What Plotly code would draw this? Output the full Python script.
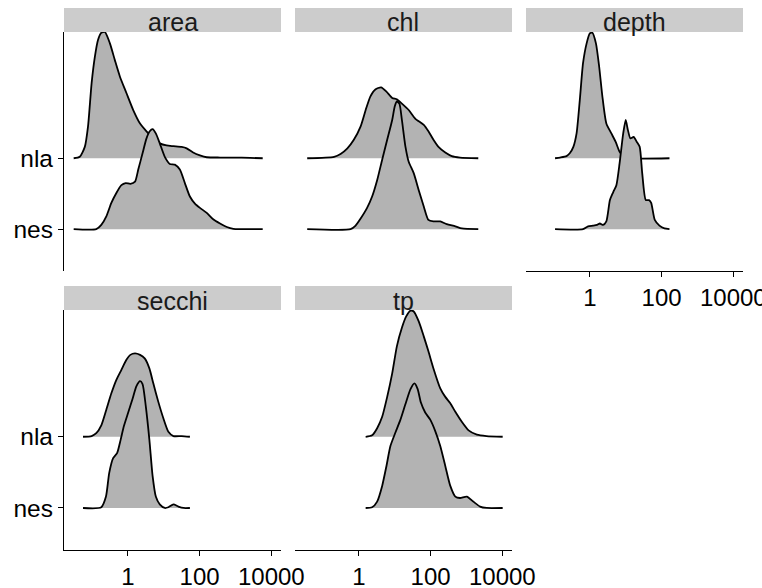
import plotly.graph_objects as go

# ---------------- data ----------------
facets = ["area", "chl", "depth", "secchi", "tp"]
categories = ["nes", "nla"]          # bottom -> top
x_tick_values = [1, 100, 10000]
x_tick_labels = ["1", "100", "10000"]

# log10(x) positions and ridge heights (in units of category spacing)
area_nla_logx = [-1.51, -1.34, -1.20, -1.11, -1.01, -0.92, -0.83, -0.74, -0.64, -0.50, -0.36, -0.22, -0.04,
                 0.15, 0.34, 0.52, 0.71, 0.89, 1.08, 1.27, 1.50, 1.64, 1.82, 2.01, 2.20, 2.57, 2.94, 3.41, 3.76]
area_nla_h = [0, 0.02, 0.16, 0.45, 1.06, 1.43, 1.67, 1.77, 1.78, 1.62, 1.38, 1.15, 0.92,
              0.68, 0.49, 0.38, 0.28, 0.21, 0.18, 0.17, 0.16, 0.14, 0.08, 0.04, 0.014, 0.01, 0.01, 0.005, 0]
area_nes_logx = [-1.51, -0.88, -0.74, -0.60, -0.46, -0.32, -0.18, -0.06, 0.07, 0.20, 0.29, 0.41, 0.52, 0.61,
                 0.69, 0.78, 0.89, 1.03, 1.17, 1.31, 1.45, 1.59, 1.73, 1.87, 2.01, 2.20, 2.38, 2.57, 2.76,
                 2.94, 3.76]
area_nes_h = [0, 0, 0.06, 0.18, 0.37, 0.51, 0.62, 0.65, 0.64, 0.67, 0.84, 1.07, 1.28, 1.38,
              1.41, 1.35, 1.21, 1.02, 0.92, 0.91, 0.84, 0.65, 0.46, 0.36, 0.30, 0.23, 0.14, 0.08, 0.03,
              0.005, 0]

chl_nla_logx = [-1.44, -0.69, -0.51, -0.32, -0.14, 0.05, 0.19, 0.32, 0.46, 0.62, 0.77, 0.93, 1.06, 1.20,
                1.39, 1.57, 1.81, 1.94, 2.08, 2.22, 2.41, 2.59, 2.82, 3.33]
chl_nla_h = [0, 0.02, 0.06, 0.14, 0.26, 0.45, 0.68, 0.87, 0.97, 1.00, 0.94, 0.85, 0.83, 0.77,
             0.68, 0.56, 0.47, 0.38, 0.26, 0.16, 0.08, 0.03, 0.01, 0]
chl_nes_logx = [-1.44, -0.23, -0.09, 0.05, 0.23, 0.37, 0.51, 0.65, 0.79, 0.93, 1.00, 1.06, 1.13, 1.20,
                1.30, 1.39, 1.53, 1.67, 1.81, 1.94, 2.08, 2.27, 2.45, 2.69, 2.87, 3.33]
chl_nes_h = [0, 0, 0.05, 0.15, 0.30, 0.46, 0.69, 0.98, 1.26, 1.54, 1.73, 1.80, 1.77, 1.54,
             1.16, 0.95, 0.79, 0.55, 0.32, 0.13, 0.11, 0.11, 0.07, 0.04, 0.01, 0]

depth_nla_logx = [-0.97, -0.83, -0.65, -0.56, -0.46, -0.37, -0.28, -0.19, -0.09, 0.00, 0.07, 0.17, 0.26,
                  0.35, 0.46, 0.60, 0.72, 0.83, 0.93, 1.11, 2.22]
depth_nla_h = [0, 0.01, 0.03, 0.07, 0.16, 0.35, 0.82, 1.34, 1.62, 1.76, 1.77, 1.62, 1.29,
               0.87, 0.49, 0.35, 0.23, 0.09, 0.03, 0, 0]
depth_nes_logx = [-0.97, -0.19, -0.05, 0.09, 0.20, 0.28, 0.37, 0.46, 0.56, 0.65, 0.74, 0.83, 0.93, 1.00,
                  1.06, 1.13, 1.22, 1.31, 1.39, 1.46, 1.56, 1.65, 1.71, 1.81, 1.94, 2.08, 2.22]
depth_nes_h = [0, 0, 0.04, 0.05, 0.06, 0.08, 0.06, 0.11, 0.41, 0.52, 0.62, 0.93, 1.35, 1.54,
               1.40, 1.28, 1.30, 1.23, 1.16, 0.79, 0.41, 0.41, 0.37, 0.13, 0.05, 0.01, 0]

secchi_nla_logx = [-1.25, -1.01, -0.88, -0.74, -0.60, -0.46, -0.32, -0.18, -0.04, 0.07, 0.20, 0.34, 0.47,
                   0.60, 0.71, 0.85, 0.99, 1.13, 1.27, 1.50, 1.73]
secchi_nla_h = [0, 0.01, 0.05, 0.16, 0.38, 0.61, 0.80, 0.94, 1.08, 1.15, 1.17, 1.15, 1.10,
                0.96, 0.75, 0.49, 0.26, 0.07, 0.01, 0.01, 0]
secchi_nes_logx = [-1.25, -0.74, -0.61, -0.52, -0.41, -0.30, -0.20, -0.11, 0.01, 0.13, 0.24, 0.34, 0.41,
                   0.50, 0.60, 0.69, 0.78, 0.89, 1.03, 1.13, 1.27, 1.41, 1.55, 1.73]
secchi_nes_h = [0, 0.01, 0.16, 0.49, 0.70, 0.77, 0.96, 1.15, 1.34, 1.53, 1.71, 1.78, 1.74,
                1.43, 0.96, 0.45, 0.16, 0.05, 0, 0.01, 0.05, 0.02, 0, 0]

tp_nla_logx = [0.19, 0.37, 0.51, 0.65, 0.79, 0.93, 1.06, 1.20, 1.32, 1.44, 1.53, 1.67, 1.81, 1.94,
               2.08, 2.27, 2.41, 2.55, 2.69, 2.87, 3.06, 3.29, 3.56, 4.01]
tp_nla_h = [0, 0.02, 0.12, 0.28, 0.56, 0.89, 1.27, 1.53, 1.69, 1.77, 1.76, 1.62, 1.41, 1.20,
            0.96, 0.68, 0.56, 0.47, 0.35, 0.21, 0.09, 0.03, 0.01, 0]
tp_nes_logx = [0.19, 0.37, 0.51, 0.65, 0.77, 0.88, 1.02, 1.16, 1.30, 1.44, 1.55, 1.64, 1.73, 1.85,
               1.99, 2.13, 2.27, 2.41, 2.55, 2.69, 2.82, 3.01, 3.19, 3.38, 3.56, 4.01]
tp_nes_h = [0, 0.01, 0.09, 0.31, 0.59, 0.87, 1.06, 1.24, 1.46, 1.67, 1.75, 1.67, 1.48, 1.34,
            1.24, 1.08, 0.87, 0.59, 0.31, 0.16, 0.14, 0.16, 0.09, 0.02, 0, 0]

ridges = {
    "area": {"nla": (area_nla_logx, area_nla_h), "nes": (area_nes_logx, area_nes_h)},
    "chl": {"nla": (chl_nla_logx, chl_nla_h), "nes": (chl_nes_logx, chl_nes_h)},
    "depth": {"nla": (depth_nla_logx, depth_nla_h), "nes": (depth_nes_logx, depth_nes_h)},
    "secchi": {"nla": (secchi_nla_logx, secchi_nla_h), "nes": (secchi_nes_logx, secchi_nes_h)},
    "tp": {"nla": (tp_nla_logx, tp_nla_h), "nes": (tp_nes_logx, tp_nes_h)},
}

# ---------------- layout geometry ----------------
W, H = 762, 588
col_px = [(64, 281), (295, 512), (526, 743)]
row_px = [(32, 271), (310, 550)]         # panel top/bottom (pixels from top)
strip_px = [(8, 32), (286, 310)]
facet_pos = {"area": (0, 0), "chl": (0, 1), "depth": (0, 2), "secchi": (1, 0), "tp": (1, 1)}
x_axis_shown = {"area": False, "chl": False, "depth": True, "secchi": True, "tp": True}

FILL = "#b3b3b3"
FONT = "Liberation Sans, Arial, sans-serif"
FS_X = 24
FS_Y = 24.5
FS_STRIP = 25

fig = go.Figure()
layout = {}
shapes = []
annotations = []

for i, f in enumerate(facets):
    r, c = facet_pos[f]
    xa = "x" if i == 0 else f"x{i+1}"
    ya = "y" if i == 0 else f"y{i+1}"
    for cat in ["nla", "nes"]:       # upper ridge first, lower one on top
        base = categories.index(cat) + 1
        lx, hh = ridges[f][cat]
        xs = [10 ** v for v in lx]
        ys = [base + v for v in hh]
        fig.add_trace(go.Scatter(x=xs, y=ys, xaxis=xa, yaxis=ya, mode="lines", fill="toself",
                                 fillcolor=FILL, line=dict(width=0, shape="spline", smoothing=0.6),
                                 hoverinfo="skip", showlegend=False))
        fig.add_trace(go.Scatter(x=xs, y=ys, xaxis=xa, yaxis=ya, mode="lines",
                                 line=dict(color="black", width=1.8, shape="spline", smoothing=0.6),
                                 hoverinfo="skip", showlegend=False))

    x0, x1 = col_px[c]
    t, b = row_px[r]
    xd = [x0 / W, x1 / W]
    yd = [1 - b / H, 1 - t / H]
    key_x = "xaxis" if i == 0 else f"xaxis{i+1}"
    key_y = "yaxis" if i == 0 else f"yaxis{i+1}"
    showx = x_axis_shown[f]
    layout[key_x] = dict(domain=xd, anchor=ya, type="log", range=[-1.78, 4.27],
                         tickvals=x_tick_values, ticktext=x_tick_labels, automargin=False,
                         ticklabeloverflow="allow",
                         showticklabels=showx, showline=showx, ticks="outside" if showx else "",
                         linecolor="black", linewidth=1.2, tickcolor="black", tickwidth=1.2,
                         ticklen=5, showgrid=False, zeroline=False, fixedrange=True,
                         tickfont=dict(family=FONT, size=FS_X, color="black"))
    showy = (c == 0)
    layout[key_y] = dict(domain=yd, anchor=xa, range=[0.41, 3.78], automargin=False,
                         ticklabeloverflow="allow",
                         tickvals=[1, 2], ticktext=categories,
                         showticklabels=showy, showline=showy, ticks="outside" if showy else "",
                         linecolor="black", linewidth=1.2, tickcolor="black", tickwidth=1.2,
                         ticklen=5, showgrid=False, zeroline=False, fixedrange=True,
                         tickfont=dict(family=FONT, size=FS_Y, color="black"))
    st, sb = strip_px[r]
    shapes.append(dict(type="rect", xref="paper", yref="paper", x0=x0 / W, x1=x1 / W,
                       y0=1 - sb / H, y1=1 - st / H, fillcolor="#cccccc", line=dict(width=0),
                       layer="below"))
    annotations.append(dict(text=f, xref="paper", yref="paper", x=(x0 + x1) / 2 / W,
                            y=1 - (st + sb + 5) / 2 / H, xanchor="center", yanchor="middle",
                            showarrow=False, font=dict(family=FONT, size=FS_STRIP, color="#1a1a1a")))

fig.update_layout(width=W, height=H, margin=dict(l=0, r=0, t=0, b=0, autoexpand=False),
                  paper_bgcolor="white", plot_bgcolor="rgba(0,0,0,0)",
                  shapes=shapes, annotations=annotations, showlegend=False, **layout)

fig.write_html("out.html", config={"displayModeBar": False},
               post_script="document.body.style.margin='0';document.body.style.overflow='hidden';")
